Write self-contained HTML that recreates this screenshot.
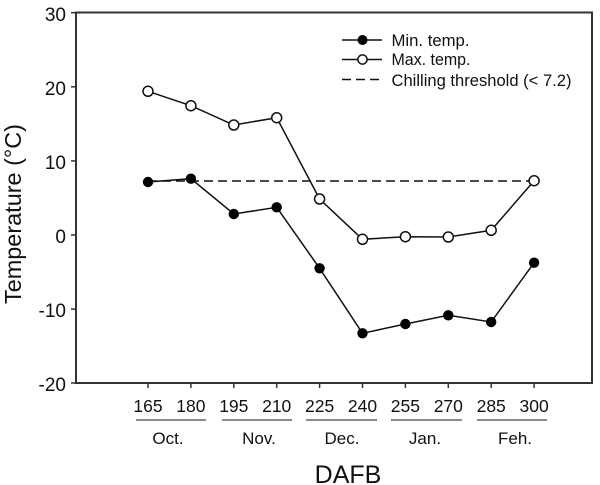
<!DOCTYPE html>
<html><head><meta charset="utf-8"><style>
html,body{margin:0;padding:0;background:#fff;}
svg{display:block;}
text{font-family:"Liberation Sans",Arial,sans-serif;fill:#111;}
</style></head><body>
<svg width="600" height="485" viewBox="0 0 600 485" xmlns="http://www.w3.org/2000/svg">
<rect x="0" y="0" width="600" height="485" fill="#fff"/>
<!-- frame -->
<rect x="76" y="12.5" width="516" height="370.5" fill="none" stroke="#333" stroke-width="2"/>
<!-- y ticks -->
<g stroke="#333" stroke-width="1.5">
<line x1="71" y1="12.7" x2="76" y2="12.7"/>
<line x1="71" y1="86.8" x2="76" y2="86.8"/>
<line x1="71" y1="160.9" x2="76" y2="160.9"/>
<line x1="71" y1="235" x2="76" y2="235"/>
<line x1="71" y1="309.1" x2="76" y2="309.1"/>
<line x1="71" y1="383" x2="76" y2="383"/>
</g>
<g font-size="19" text-anchor="end">
<text x="66" y="21">30</text>
<text x="66" y="95">20</text>
<text x="66" y="169">10</text>
<text x="66" y="243">0</text>
<text x="66" y="317">-10</text>
<text x="66" y="391">-20</text>
</g>
<!-- x ticks -->
<g stroke="#333" stroke-width="1.5">
<line x1="148" y1="383" x2="148" y2="388"/>
<line x1="190.9" y1="383" x2="190.9" y2="388"/>
<line x1="233.8" y1="383" x2="233.8" y2="388"/>
<line x1="276.7" y1="383" x2="276.7" y2="388"/>
<line x1="319.6" y1="383" x2="319.6" y2="388"/>
<line x1="362.5" y1="383" x2="362.5" y2="388"/>
<line x1="405.4" y1="383" x2="405.4" y2="388"/>
<line x1="448.3" y1="383" x2="448.3" y2="388"/>
<line x1="491.2" y1="383" x2="491.2" y2="388"/>
<line x1="534.1" y1="383" x2="534.1" y2="388"/>
</g>
<g font-size="17.5" text-anchor="middle">
<text x="148" y="412">165</text>
<text x="190.9" y="412">180</text>
<text x="233.8" y="412">195</text>
<text x="276.7" y="412">210</text>
<text x="319.6" y="412">225</text>
<text x="362.5" y="412">240</text>
<text x="405.4" y="412">255</text>
<text x="448.3" y="412">270</text>
<text x="491.2" y="412">285</text>
<text x="534.1" y="412">300</text>
</g>
<!-- month underlines -->
<g stroke="#444" stroke-width="1.2">
<line x1="136" y1="420" x2="206" y2="420"/>
<line x1="222" y1="420" x2="292" y2="420"/>
<line x1="306" y1="420" x2="377" y2="420"/>
<line x1="391" y1="420" x2="462" y2="420"/>
<line x1="477" y1="420" x2="547" y2="420"/>
</g>
<g font-size="17" text-anchor="middle">
<text x="168" y="444">Oct.</text>
<text x="259" y="444">Nov.</text>
<text x="342" y="444">Dec.</text>
<text x="425" y="444">Jan.</text>
<text x="515" y="444">Feh.</text>
</g>
<text x="348" y="483" font-size="25" text-anchor="middle">DAFB</text>
<text transform="translate(21,214) rotate(-90)" font-size="23" text-anchor="middle" textLength="180" lengthAdjust="spacingAndGlyphs">Temperature (°C)</text>
<!-- threshold -->
<line x1="148" y1="181" x2="534" y2="181" stroke="#111" stroke-width="1.5" stroke-dasharray="9,5"/>
<!-- max series -->
<polyline fill="none" stroke="#111" stroke-width="1.5" points="148,91.3 190.9,105.7 233.8,125 276.7,117.7 319.6,199 362.5,239.3 405.4,236.7 448.3,237 491.2,230.3 534.1,180.7"/>
<!-- min series -->
<polyline fill="none" stroke="#111" stroke-width="1.5" points="148,182 190.9,178.7 233.8,214 276.7,207.3 319.6,268.3 362.5,333.3 405.4,324 448.3,315.3 491.2,322 534.1,262.7"/>
<g fill="#fff" stroke="#111" stroke-width="1.5">
<circle cx="148" cy="91.3" r="5"/>
<circle cx="190.9" cy="105.7" r="5"/>
<circle cx="233.8" cy="125" r="5"/>
<circle cx="276.7" cy="117.7" r="5"/>
<circle cx="319.6" cy="199" r="5"/>
<circle cx="362.5" cy="239.3" r="5"/>
<circle cx="405.4" cy="236.7" r="5"/>
<circle cx="448.3" cy="237" r="5"/>
<circle cx="491.2" cy="230.3" r="5"/>
<circle cx="534.1" cy="180.7" r="5"/>
</g>
<g fill="#000">
<circle cx="148" cy="182" r="5.2"/>
<circle cx="190.9" cy="178.7" r="5.2"/>
<circle cx="233.8" cy="214" r="5.2"/>
<circle cx="276.7" cy="207.3" r="5.2"/>
<circle cx="319.6" cy="268.3" r="5.2"/>
<circle cx="362.5" cy="333.3" r="5.2"/>
<circle cx="405.4" cy="324" r="5.2"/>
<circle cx="448.3" cy="315.3" r="5.2"/>
<circle cx="491.2" cy="322" r="5.2"/>
<circle cx="534.1" cy="262.7" r="5.2"/>
</g>
<!-- legend -->
<line x1="342" y1="40" x2="382" y2="40" stroke="#111" stroke-width="1.5"/>
<circle cx="362.5" cy="40" r="5" fill="#000"/>
<line x1="342" y1="59.5" x2="382" y2="59.5" stroke="#111" stroke-width="1.5"/>
<circle cx="362.5" cy="59.5" r="4.6" fill="#fff" stroke="#111" stroke-width="1.5"/>
<line x1="342" y1="79.5" x2="382" y2="79.5" stroke="#111" stroke-width="1.5" stroke-dasharray="9,5"/>
<g font-size="16.5">
<text x="391.5" y="45.8" textLength="78" lengthAdjust="spacingAndGlyphs">Min. temp.</text>
<text x="391.5" y="65.2" textLength="79" lengthAdjust="spacingAndGlyphs">Max. temp.</text>
<text x="391.5" y="85.8" textLength="180" lengthAdjust="spacingAndGlyphs">Chilling threshold (&lt; 7.2)</text>
</g>
</svg>
</body></html>
